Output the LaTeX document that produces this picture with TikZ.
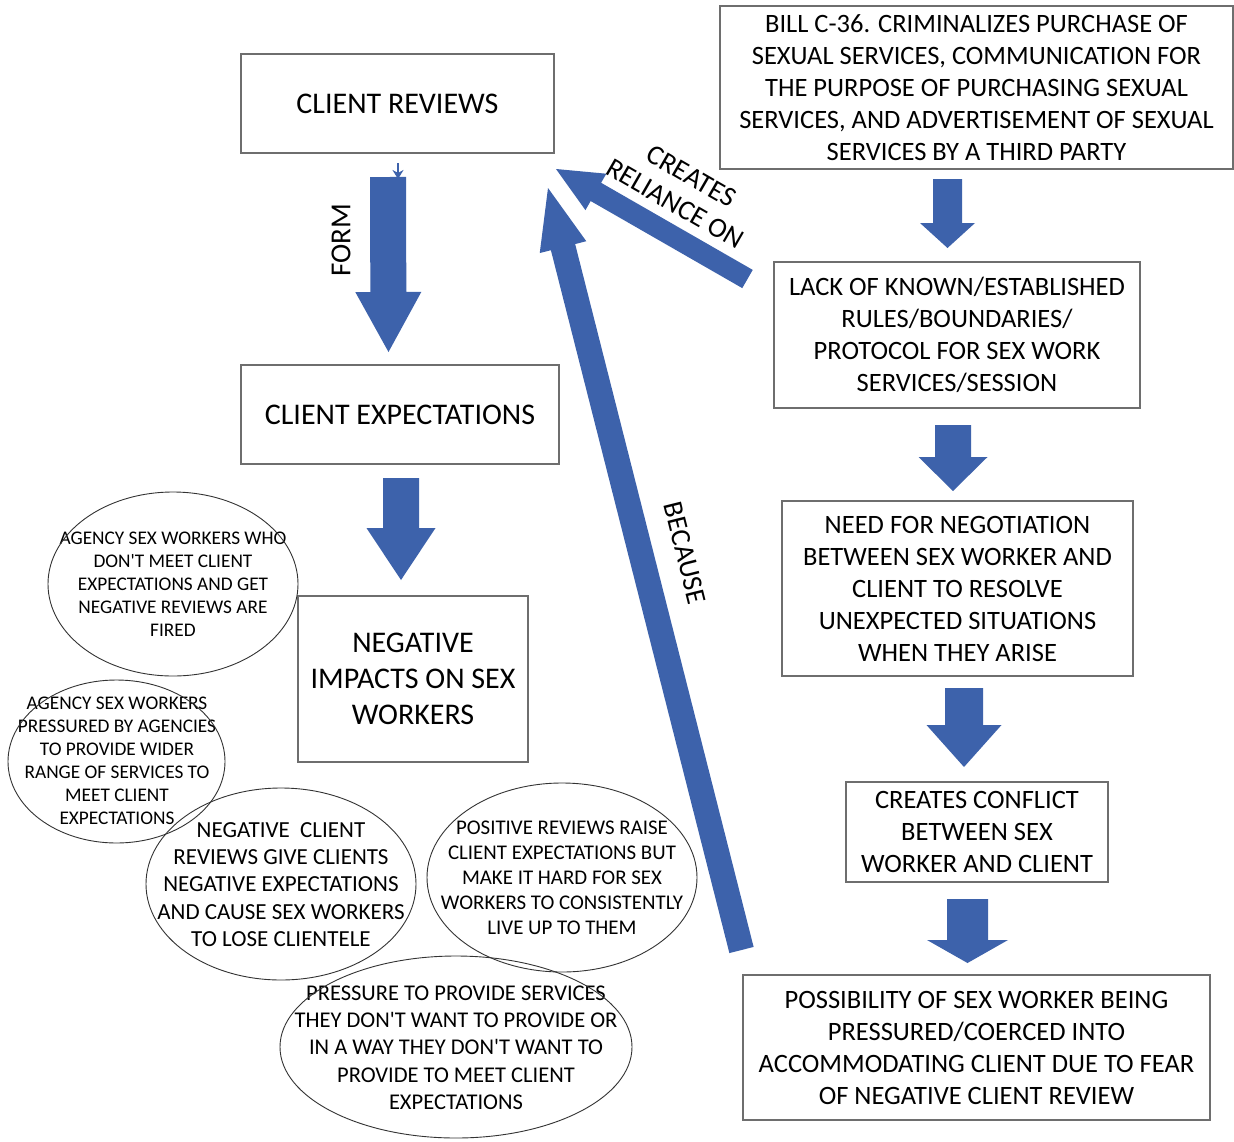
\documentclass[tikz,border=0pt]{standalone}
\usepackage{fontspec}
\setmainfont{Carlito}[Ligatures=TeXOff]
\usetikzlibrary{calc,arrows.meta}
\definecolor{arrowblue}{RGB}{61,98,171}
\definecolor{boxline}{RGB}{110,110,110}
\newcommand\blockarrow[5]{%
  \path ($(#2)!#5!(#1)$) coordinate (hb);
  \fill[arrowblue] ($(#1)!#3!90:(#2)$) -- ($(hb)!#3!90:(#2)$) -- ($(hb)!#4!90:(#2)$)
    -- (#2) -- ($(hb)!#4!-90:(#2)$) -- ($(hb)!#3!-90:(#2)$) -- ($(#1)!#3!-90:(#2)$) -- cycle;}
\tikzset{
  box/.style={draw=boxline, line width=1.1pt, align=center, inner sep=0pt, text=black},
  bigtxt/.style={font=\fontsize{30}{36}\selectfont},
  rtxt/.style={font=\fontsize{26.5}{32}\selectfont},
  elltxt/.style={align=center, inner sep=0pt, text=black},
  ell/.style={draw=black!80, line width=0.9pt},
  lbl/.style={inner sep=0pt, text=black}
}
\begin{document}
\begin{tikzpicture}[x=1pt,y=-1pt]
\useasboundingbox (0,0) rectangle (1234,1141);
\fill[white] (0,0) rectangle (1234,1141);

% boxes
\node[box, bigtxt, minimum width=313pt, minimum height=99pt] (reviews) at (397.5,103.5) {CLIENT REVIEWS};
\node[box, bigtxt, minimum width=318pt, minimum height=99pt] (expect) at (400,414.5) {CLIENT EXPECTATIONS};
\node[box, bigtxt, minimum width=230pt, minimum height=166pt] (impacts) at (413,679) {NEGATIVE\\IMPACTS ON SEX\\WORKERS};
\node[box, rtxt, minimum width=513pt, minimum height=163pt] (bill) at (976.5,87.5) {BILL C-36. CRIMINALIZES PURCHASE OF\\SEXUAL SERVICES, COMMUNICATION FOR\\THE PURPOSE OF PURCHASING SEXUAL\\SERVICES, AND ADVERTISEMENT OF SEXUAL\\SERVICES BY A THIRD PARTY};
\node[box, rtxt, minimum width=366pt, minimum height=146pt] (lack) at (957,335) {LACK OF KNOWN/ESTABLISHED\\RULES/BOUNDARIES/\\PROTOCOL FOR SEX WORK\\SERVICES/SESSION};
\node[box, rtxt, minimum width=351pt, minimum height=175pt] (need) at (957.5,588.5) {NEED FOR NEGOTIATION\\BETWEEN SEX WORKER AND\\CLIENT TO RESOLVE\\UNEXPECTED SITUATIONS\\WHEN THEY ARISE};
\node[box, rtxt, minimum width=262pt, minimum height=100pt] (conflict) at (977,832) {CREATES CONFLICT\\BETWEEN SEX\\WORKER AND CLIENT};
\node[box, rtxt, minimum width=467pt, minimum height=145pt] (possib) at (976.5,1047.5) {POSSIBILITY OF SEX WORKER BEING\\PRESSURED/COERCED INTO\\ACCOMMODATING CLIENT DUE TO FEAR\\OF NEGATIVE CLIENT REVIEW};

% ellipses
\node[elltxt, font=\fontsize{19.3}{23}\selectfont] (e1) at (173,584) {AGENCY SEX WORKERS WHO\\DON'T MEET CLIENT\\EXPECTATIONS AND GET\\NEGATIVE REVIEWS ARE\\FIRED};
\draw[ell] (e1.center) ellipse [x radius=125pt, y radius=92pt];
\node[elltxt, font=\fontsize{19.3}{23}\selectfont] (e2) at (117,760.5) {AGENCY SEX WORKERS\\PRESSURED BY AGENCIES\\TO PROVIDE WIDER\\RANGE OF SERVICES TO\\MEET CLIENT\\EXPECTATIONS};
\draw[ell] (116.5,761.5) ellipse [x radius=108.5pt, y radius=81.5pt];
\node[elltxt, font=\fontsize{23}{27.3}\selectfont] (e3) at (281,884.5) {NEGATIVE\ \ CLIENT\\REVIEWS GIVE CLIENTS\\NEGATIVE EXPECTATIONS\\AND CAUSE SEX WORKERS\\TO LOSE CLIENTELE};
\draw[ell] (281,884) ellipse [x radius=135pt, y radius=96pt];
\node[elltxt, font=\fontsize{20.9}{25}\selectfont] (e4) at (562,878) {POSITIVE REVIEWS RAISE\\CLIENT EXPECTATIONS BUT\\MAKE IT HARD FOR SEX\\WORKERS TO CONSISTENTLY\\LIVE UP TO THEM};
\draw[ell] (562,877.5) ellipse [x radius=135pt, y radius=94.5pt];
\node[elltxt, font=\fontsize{22.5}{27.3}\selectfont] (e5) at (456,1047.5) {PRESSURE TO PROVIDE SERVICES\\THEY DON'T WANT TO PROVIDE OR\\IN A WAY THEY DON'T WANT TO\\PROVIDE TO MEET CLIENT\\EXPECTATIONS};
\draw[ell] (456,1047) ellipse [x radius=176pt, y radius=91pt];

% block arrows
\coordinate (f1) at (388,177); \coordinate (f2) at (388.5,352);
\blockarrow{f1}{f2}{18pt}{33pt}{60pt}
\coordinate (g1) at (401,478); \coordinate (g2) at (401,580);
\blockarrow{g1}{g2}{18pt}{34.5pt}{52pt}
\coordinate (r1a) at (947.5,179); \coordinate (r1b) at (947.5,248);
\blockarrow{r1a}{r1b}{14.5pt}{27.5pt}{25pt}
\coordinate (r2a) at (953,425); \coordinate (r2b) at (953,491);
\blockarrow{r2a}{r2b}{18pt}{34.5pt}{34pt}
\coordinate (r3a) at (964,688); \coordinate (r3b) at (964,767);
\blockarrow{r3a}{r3b}{19pt}{37.5pt}{42pt}
\coordinate (r4a) at (967.5,899); \coordinate (r4b) at (967.5,963);
\blockarrow{r4a}{r4b}{20.5pt}{40.5pt}{23pt}
\coordinate (ca) at (747.5,279); \coordinate (cb) at (556,169);
\blockarrow{ca}{cb}{10.5pt}{21pt}{46pt}
\coordinate (ba) at (741.5,950); \coordinate (bb) at (548,188);
\blockarrow{ba}{bb}{12.5pt}{24pt}{61pt}

% small connector
\coordinate (s1) at (398,163);
\coordinate (s2) at (398,179);
\draw[arrowblue, line width=1.5pt, -{Stealth[length=9pt,width=11pt]}] (s1) -- (s2);

% labels
\node[lbl, rotate=90, font=\fontsize{29}{34}\selectfont] (lform) at (341,240) {FORM};
\node[lbl, rotate=-30, align=center, font=\fontsize{28}{32}\selectfont] (lcreates) at (683.5,190) {CREATES\\RELIANCE ON};
\node[lbl, rotate=-76, font=\fontsize{28}{32}\selectfont] (lbecause) at (685,553) {BECAUSE};
\end{tikzpicture}
\end{document}
